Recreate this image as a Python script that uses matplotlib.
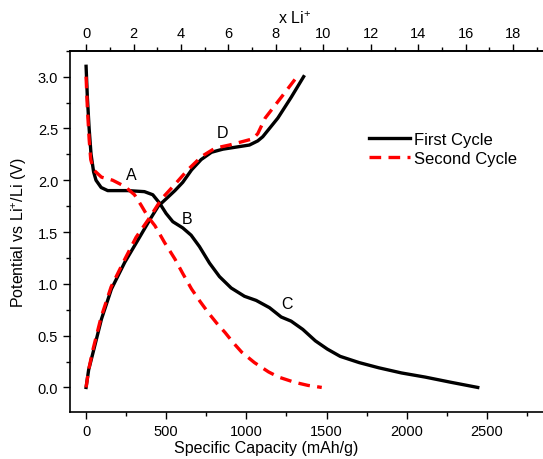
# Charge/discharge profiles: first vs second cycle
import numpy as np
import matplotlib.pyplot as plt
from matplotlib.ticker import MultipleLocator

plt.rcParams['font.family'] = ['Liberation Sans', 'DejaVu Sans']
plt.rcParams['mathtext.fontset'] = 'custom'
plt.rcParams['mathtext.rm'] = 'Liberation Sans'
plt.rcParams['mathtext.it'] = 'Liberation Sans:italic'

# ── data ─────────────────────────────────────────────────────
# first cycle, discharge (lithiation)
cap1_dis = [0, 8, 19, 31, 47, 62, 94, 135, 260, 364, 416, 458, 499, 541, 603,
            655, 707, 770, 832, 905, 988, 1061, 1144, 1217, 1279, 1352, 1430,
            1505, 1585, 1703, 1825, 1967, 2115, 2275, 2443]
v1_dis = [3.1, 2.8, 2.5, 2.25, 2.08, 2.0, 1.93, 1.9, 1.9, 1.89, 1.86, 1.78,
          1.68, 1.6, 1.54, 1.47, 1.36, 1.2, 1.07, 0.96, 0.88, 0.84, 0.77, 0.68,
          0.64, 0.56, 0.45, 0.37, 0.3, 0.24, 0.19, 0.14, 0.1, 0.05, 0.0]
# first cycle, charge
cap1_ch = [0, 16, 44, 96, 158, 242, 326, 398, 450, 499, 554, 603, 658, 718,
           782, 853, 936, 1019, 1071, 1102, 1196, 1279, 1357]
v1_ch = [0.0, 0.17, 0.34, 0.66, 0.95, 1.21, 1.43, 1.62, 1.75, 1.82, 1.9, 1.98,
         2.1, 2.2, 2.27, 2.3, 2.32, 2.34, 2.38, 2.42, 2.6, 2.8, 3.0]
# second cycle, discharge
cap2_dis = [0, 8, 19, 29, 47, 96, 166, 242, 302, 343, 385, 430, 489, 554, 603,
            658, 711, 763, 815, 867, 919, 971, 1050, 1138, 1201, 1300, 1383, 1470]
v2_dis = [3.0, 2.7, 2.4, 2.2, 2.1, 2.03, 2.0, 1.94, 1.86, 1.76, 1.65, 1.56,
          1.4, 1.24, 1.1, 0.95, 0.83, 0.72, 0.62, 0.53, 0.43, 0.34, 0.24, 0.15,
          0.1, 0.05, 0.02, 0.0]
# second cycle, charge
cap2_ch = [0, 16, 42, 94, 156, 239, 312, 388, 471, 554, 634, 721, 805, 894,
           992, 1040, 1071, 1117, 1217, 1316]
v2_ch = [0.0, 0.17, 0.36, 0.68, 0.97, 1.23, 1.45, 1.62, 1.82, 1.96, 2.1, 2.23,
         2.31, 2.34, 2.38, 2.4, 2.45, 2.6, 2.8, 3.0]

# annotation letters: (label, capacity, potential)
labels = [('A', 281, 2.06), ('B', 627, 1.63), ('C', 1255, 0.81), ('D', 850, 2.46)]

MAH_PER_LI = 148.0   # mAh/g per inserted Li

# ── figure ───────────────────────────────────────────────────
fig = plt.figure(figsize=(5.43, 4.6), dpi=100)
ax = fig.add_axes([0.129, 0.1015, 0.871, 0.786])

ax.plot(cap1_dis, v1_dis, color='black', lw=2.4, label='First Cycle')
ax.plot(cap1_ch, v1_ch, color='black', lw=2.4)
ax.plot(cap2_dis, v2_dis, color='red', lw=2.4, ls=(0, (3.5, 2.2)),
        label='Second Cycle')
ax.plot(cap2_ch, v2_ch, color='red', lw=2.4, ls=(0, (3.5, 2.2)))

for txt, x, y in labels:
    ax.text(x, y, txt, fontsize=11.5, ha='center', va='center')

ax.set_xlim(-100, 2850)
ax.set_ylim(-0.24, 3.25)
ax.xaxis.set_major_locator(MultipleLocator(500))
ax.xaxis.set_minor_locator(MultipleLocator(250))
ax.yaxis.set_major_locator(MultipleLocator(0.5))
ax.yaxis.set_minor_locator(MultipleLocator(0.25))
ax.tick_params(which='both', direction='out', labelsize=10.5, width=1)
ax.tick_params(which='major', length=5)
ax.tick_params(which='minor', length=3)
ax.spines['right'].set_visible(False)
for s in ['left', 'bottom', 'top']:
    ax.spines[s].set_linewidth(1.2)

ax.set_xlabel('Specific Capacity (mAh/g)', fontsize=11.5, labelpad=1)
ax.xaxis.label.set_x(0.414)
ax.set_ylabel('Potential vs Li$^{+}$/Li (V)', fontsize=11.5, labelpad=6)

# top axis in Li per formula unit
top = ax.secondary_xaxis('top', functions=(lambda c: c / MAH_PER_LI,
                                           lambda n: n * MAH_PER_LI))
top.set_xticks([0, 2, 4, 6, 8, 10, 12, 14, 16, 18])
top.xaxis.set_minor_locator(MultipleLocator(1))
top.tick_params(which='both', direction='out', labelsize=10.5, width=1, pad=3)
top.tick_params(which='major', length=5)
top.tick_params(which='minor', length=3)
top.spines['top'].set_linewidth(1.2)
top.set_xlabel('x Li$^{+}$', fontsize=11.5, labelpad=2)
top.xaxis.label.set_x(0.474)

ax.legend(loc='upper left', bbox_to_anchor=(0.6, 0.818), frameon=False,
          fontsize=12, handlelength=2.5, handletextpad=0.2, labelspacing=0.25)

fig.savefig('out.png', dpi=100)
